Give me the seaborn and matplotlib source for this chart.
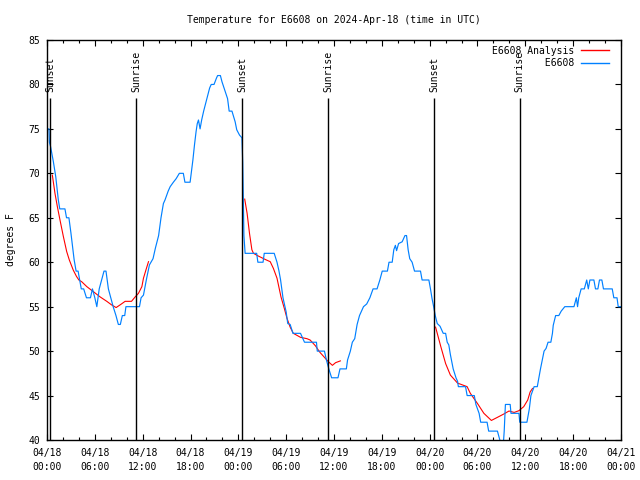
import pandas as pd
import matplotlib
matplotlib.use("Agg")
import matplotlib.pyplot as plt
import seaborn as sns

# hours since 2024-04-18 00:00 UTC, temperatures in degrees F
obs_hours = [0.0, 0.25, 0.3, 0.45, 0.8, 1.1, 1.42, 1.6, 2.25, 2.45, 2.75, 3.0, 3.4, 3.65, 3.9,
             4.3, 4.6, 4.95, 5.45, 5.7, 6.0, 6.25, 6.55, 6.85, 7.15, 7.4, 7.7, 8.0, 8.3, 8.65,
             8.95, 9.2, 9.45, 9.75, 9.9, 11.6, 11.8, 12.1, 12.5, 12.85, 13.3, 13.6, 14.0, 14.3,
             14.6, 14.8, 15.2, 15.45, 15.85, 16.2, 16.6, 17.1, 17.3, 17.95, 18.3, 18.5, 18.7,
             18.85, 19.0, 19.2, 19.4, 19.65, 20.05, 20.4, 20.6, 20.95, 21.25, 21.4, 21.75, 21.95,
             22.35, 22.65, 22.85, 23.2, 23.6, 23.8, 24.15, 24.45, 24.55, 24.7, 24.85, 26.3, 26.45,
             27.1, 27.25, 28.5, 28.85, 29.1, 29.3, 29.6, 29.8, 30.0, 30.2, 30.5, 30.85, 31.8,
             32.3, 33.8, 33.9, 34.8, 35.05, 35.35, 35.7, 36.5, 36.75, 37.55, 37.7, 38.05, 38.3,
             38.6, 38.9, 39.2, 39.7, 40.1, 40.5, 40.9, 41.4, 41.75, 42.05, 42.7, 42.9, 43.3,
             43.5, 43.7, 43.85, 44.1, 44.55, 44.9, 45.1, 45.3, 45.5, 45.8, 46.1, 46.85, 47.05,
             47.9, 48.1, 48.3, 48.5, 48.7, 48.95, 49.3, 49.7, 50.0, 50.2, 50.4, 50.6, 50.95,
             51.3, 51.5, 51.6, 52.5, 52.7, 53.6, 53.8, 54.2, 54.4, 55.2, 55.4, 56.5, 56.8, 57.0,
             57.2, 57.35, 57.5, 58.1, 58.2, 59.2, 59.3, 60.2, 60.5, 60.7, 61.1, 61.5, 61.7, 61.9,
             62.35, 62.6, 62.85, 63.2, 63.4, 63.5, 63.8, 64.2, 64.5, 64.95, 66.1, 66.4, 66.55,
             66.7, 67.0, 67.4, 67.7, 67.9, 68.1, 68.6, 68.8, 69.1, 69.3, 69.6, 69.8, 70.9, 71.1,
             71.5, 71.65, 72.0]
obs_temps = [75, 75, 73.5, 73, 71.3, 69.6, 67, 66, 66, 65, 65, 63.3, 60.3, 59, 59,
             57, 57, 56, 56, 57, 56, 55, 57, 58, 59, 59, 57, 56, 55, 54,
             53, 53, 54, 54, 55, 55, 56, 56.3, 58.2, 59.7, 60.4, 61.6, 63, 65,
             66.6, 67, 68, 68.5, 69, 69.4, 70, 70, 69, 69, 71.5, 73.2, 74.7,
             75.6, 76, 75, 76, 77, 78.4, 79.6, 80, 80, 80.7, 81, 81, 80.3,
             79.2, 78.4, 77, 77, 75.8, 74.9, 74.3, 74, 71.3, 63, 61, 61, 60,
             60, 61, 61, 60, 59, 58, 56, 55.2, 54.4, 53.1, 53, 52, 52,
             51, 51, 50, 50, 49, 48, 47, 47, 48, 48, 49, 50, 51,
             51.4, 53, 54, 55, 55.3, 56, 57, 57, 58, 59, 59, 60, 60,
             61.4, 61.9, 61.3, 62.1, 62.3, 63, 63, 61.4, 60.4, 60, 59, 59, 58,
             58, 57, 55.9, 55, 54, 53.1, 52.8, 52, 52, 51, 50.7, 49.6, 48,
             47, 46.6, 46, 46, 45, 45, 44, 43, 42, 42, 41, 41, 40, 39,
             39, 41, 44, 44, 43, 43, 42, 42, 43.5, 45, 46, 46, 47, 48,
             50, 50.3, 51, 51, 52, 52.9, 54, 54, 54.5, 55, 55, 56, 55,
             56, 57, 57, 58, 57, 58, 58, 57, 57, 58, 58, 57, 57, 56,
             56, 55, 55]

# analysis runs (three separate pieces)
ana1_hours = [0.67, 1.0, 1.3, 1.63, 2.05, 2.47, 2.8, 3.3, 3.7, 4.0, 4.36, 5.0, 5.8, 6.66, 7.5,
              8.1, 8.67, 9.17, 9.8, 10.6, 11.06, 11.47, 11.9, 12.1, 12.4, 12.73]
ana1_temps = [69.8, 67.75, 66.25, 64.75, 62.9, 61.2, 60.25, 59.1, 58.4, 58.0, 57.8, 57.25, 56.7,
              56.1, 55.6, 55.2, 54.9, 55.2, 55.6, 55.6, 56.1, 56.5, 57.25, 58.2, 59.1, 60.06]
ana2_hours = [24.8, 25.1, 25.4, 25.7, 25.9, 26.5, 27.4, 28.0, 28.4, 28.85, 29.35, 29.77, 30.1,
              30.5, 30.9, 31.8, 32.6, 33.0, 33.67, 34.2, 34.7, 35.3, 35.8, 36.2, 36.8]
ana2_temps = [67.1, 65.5, 63.25, 61.4, 61.0, 60.7, 60.3, 60.06, 59.3, 58.2, 56.1, 54.8, 53.7,
              52.7, 52.0, 51.55, 51.4, 51.25, 50.6, 49.9, 49.4, 48.8, 48.4, 48.7, 48.9]
ana3_hours = [48.74, 49.4, 50.0, 50.6, 51.5, 52.1, 52.7, 53.1, 54.0, 54.8, 55.74, 56.5, 57.25,
              57.95, 58.6, 59.2, 59.8, 60.3, 60.6, 60.9]
ana3_temps = [52.7, 50.5, 48.6, 47.3, 46.4, 46.2, 46.0, 45.25, 44.1, 43.0, 42.2, 42.55, 42.9,
              43.26, 43.1, 43.3, 43.75, 44.5, 45.4, 45.8]

sunset_hours = [0.42, 24.5, 48.6]
sunrise_hours = [11.2, 35.3, 59.3]

tick_hours = list(range(0, 73, 6))
tick_labels = ["04/18\n00:00", "04/18\n06:00", "04/18\n12:00", "04/18\n18:00",
               "04/19\n00:00", "04/19\n06:00", "04/19\n12:00", "04/19\n18:00",
               "04/20\n00:00", "04/20\n06:00", "04/20\n12:00", "04/20\n18:00",
               "04/21\n00:00"]

plt.rcParams['font.family'] = ['DejaVu Sans Mono']
plt.rcParams['font.size'] = 7

fig = plt.figure(figsize=(6.4, 4.8), dpi=100)
ax = fig.add_axes([47 / 640, 40 / 480, 574 / 640, 400 / 480])

red = "#ff0000"
blue = "#0080ff"

for hrs, tmp in [(ana1_hours, ana1_temps), (ana2_hours, ana2_temps), (ana3_hours, ana3_temps)]:
    seg = pd.DataFrame({"hour": hrs, "temp": tmp})
    sns.lineplot(data=seg, x="hour", y="temp", color=red, lw=0.8,
                 estimator=None, sort=False, ax=ax)
obs = pd.DataFrame({"hour": obs_hours, "temp": obs_temps})
sns.lineplot(data=obs, x="hour", y="temp", color=blue, lw=0.85,
             estimator=None, sort=False, ax=ax)

# sunrise / sunset markers
for hrs, name in [(sunset_hours, "Sunset"), (sunrise_hours, "Sunrise")]:
    ax.vlines(hrs, 40, 78.5, color="black", lw=1.0)
    for h in hrs:
        ax.text(h, 79.15, name, rotation=90, ha="center", va="bottom", fontsize=7)

ax.set_xlim(0, 72)
ax.set_ylim(40, 85)
ax.set_xticks(tick_hours)
ax.set_xticklabels(tick_labels, linespacing=1.4)
ax.set_xticks(range(0, 73, 2), minor=True)
ax.set_yticks(range(40, 86, 5))
ax.tick_params(direction="in", top=True, right=True, length=4, width=0.8,
               labelsize=7, colors="black")
ax.tick_params(axis="x", which="minor", direction="in", top=True, length=2, width=0.8)
ax.tick_params(axis="y", pad=5)
ax.tick_params(axis="x", pad=6)
for sp in ax.spines.values():
    sp.set_linewidth(1.0)
    sp.set_color("black")

ax.set_xlabel("")
ax.set_ylabel("degrees F", fontsize=7, labelpad=9)
ax.set_title("Temperature for E6608 on 2024-Apr-18 (time in UTC)", fontsize=7, pad=12)

h_red = plt.Line2D([], [], color=red, lw=1.0)
h_blue = plt.Line2D([], [], color=blue, lw=1.0)
ax.legend([h_red, h_blue], ["E6608 Analysis", "         E6608"], loc="upper right",
          bbox_to_anchor=(1 - 6 / 574, 1.0),
          frameon=False, markerfirst=False, fontsize=7, handlelength=2.9,
          handletextpad=0.7, labelspacing=0.25, borderaxespad=0.3, borderpad=0.3)

fig.savefig("out.png", dpi=100)
